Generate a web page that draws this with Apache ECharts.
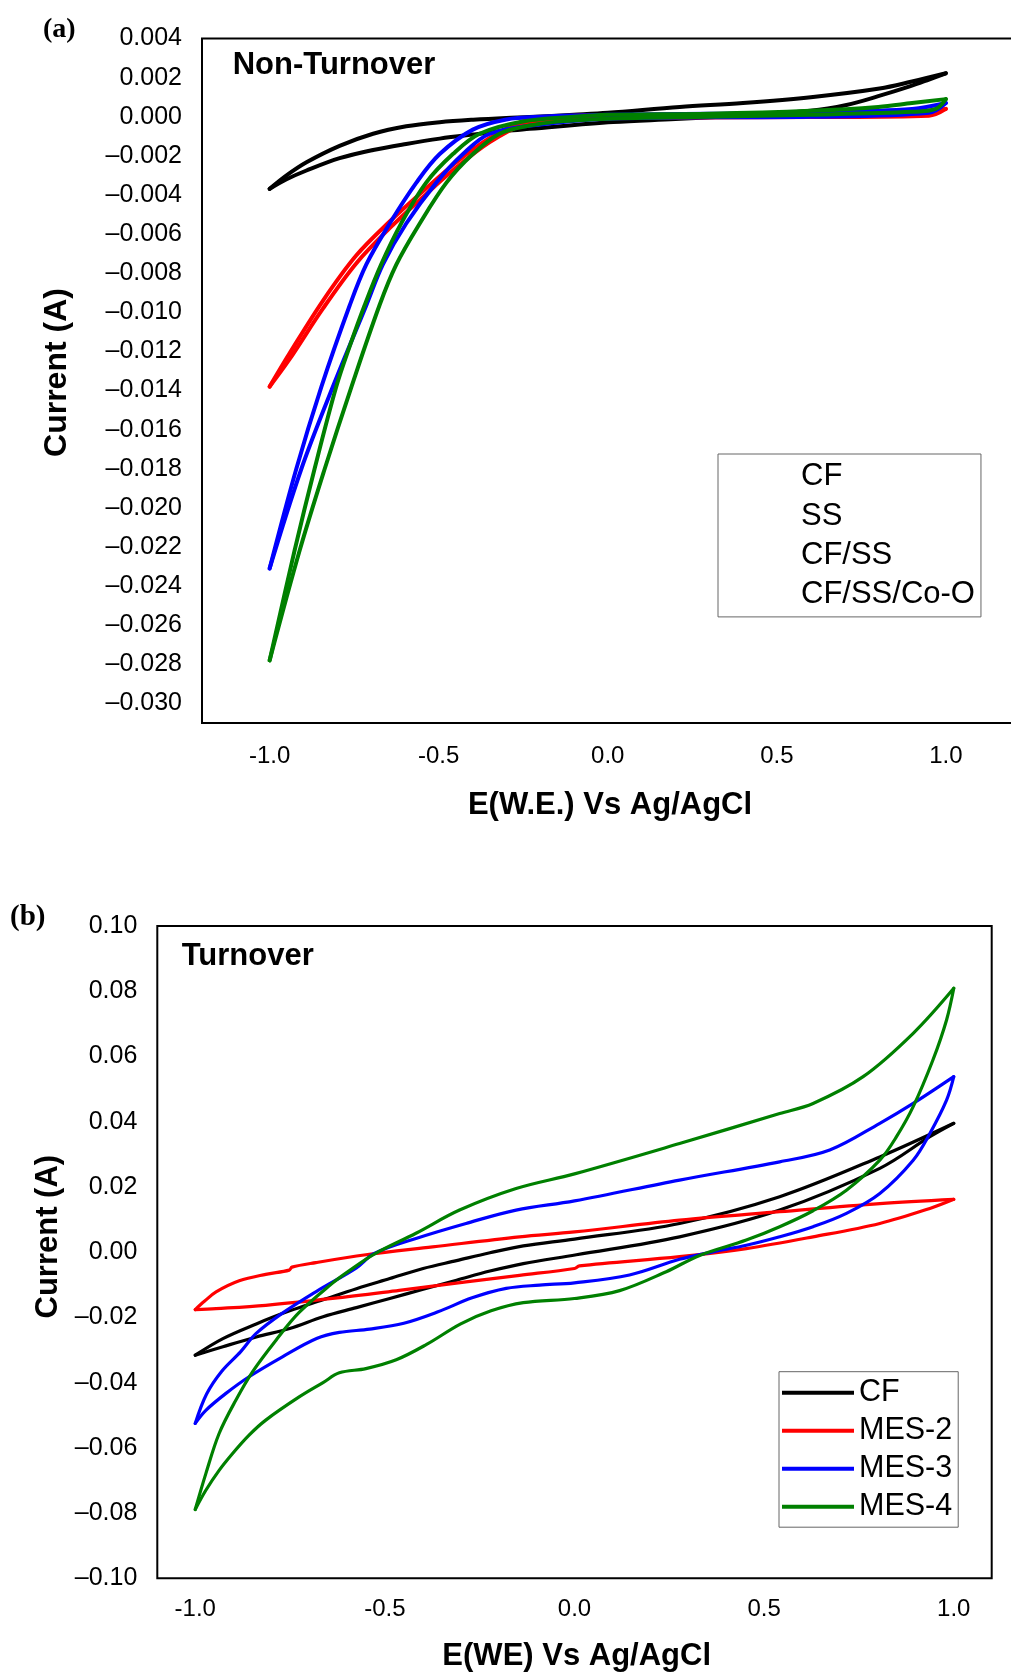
<!DOCTYPE html>
<html><head><meta charset="utf-8">
<script src="https://cdn.jsdelivr.net/npm/echarts@6/dist/echarts.min.js"></script>
<style>html,body{margin:0;padding:0;background:#fff}#c{width:1011px;height:1672px}</style>
</head><body><div id="c"></div>
<script>
// ---------- Panel (a): Non-Turnover (scan order: -1 -> 1 -> -1) ----------
const aCF_E = [-1, -0.95, -0.891, -0.793, -0.694, -0.596, -0.497, -0.398, -0.3, -0.231, -0.1, 0, 0.213, 0.4, 0.607, 0.804, 0.9, 1.0,
  0.95, 0.893, 0.8, 0.706, 0.6, 0.41, 0.2, 0.016, -0.231, -0.3, -0.398, -0.497, -0.596, -0.694, -0.793, -0.891, -0.95, -1];
const aCF_I = [-0.00369, -0.003, -0.00233, -0.00149, -0.00087, -0.00049, -0.00028, -0.00015, -0.00006, -0.00002, 0.0001, 0.0002, 0.0005, 0.0007, 0.00101, 0.00144, 0.0018, 0.00222,
  0.0019, 0.00155, 0.00105, 0.0006, 0.0003, 0.00008, -0.00012, -0.00027, -0.00062, -0.00072, -0.00091, -0.00112, -0.00139, -0.0017, -0.00212, -0.00275, -0.0032, -0.00369];
const aSS_E = [-1, -0.941, -0.842, -0.744, -0.645, -0.546, -0.448, -0.349, -0.25, -0.15, 0, 0.3, 0.6, 0.9, 1.0,
  0.95, 0.6, 0.3, 0, -0.15, -0.25, -0.349, -0.448, -0.546, -0.645, -0.744, -0.842, -0.941, -1];
const aSS_I = [-0.0138, -0.0121, -0.0094, -0.0071, -0.00536, -0.0038, -0.00233, -0.00108, -0.00024, 0.00002, 0.00008, 0.00012, 0.00018, 0.00028, 0.0004,
  0.00005, -0.00002, -0.00004, -0.00008, -0.00015, -0.0004, -0.0013, -0.0026, -0.0041, -0.0057, -0.0075, -0.0098, -0.0124, -0.0138];
const aCFSS_E = [-1, -0.921, -0.847, -0.763, -0.714, -0.645, -0.566, -0.497, -0.399, -0.3, -0.2, 0, 0.3, 0.6, 0.9, 1.0,
  0.95, 0.6, 0.3, 0, -0.2, -0.349, -0.428, -0.507, -0.596, -0.665, -0.714, -0.813, -0.906, -1];
const aCFSS_I = [-0.0231, -0.018, -0.01381, -0.00964, -0.00755, -0.00546, -0.00337, -0.00191, -0.00066, -0.00014, 0, 0.0001, 0.00015, 0.00022, 0.0004, 0.0007,
  0.0002, 0, -0.00003, -0.0001, -0.0004, -0.00087, -0.00191, -0.00337, -0.00546, -0.00755, -0.00964, -0.01381, -0.018, -0.0231];
const aCo_E = [-1, -0.926, -0.867, -0.803, -0.763, -0.719, -0.67, -0.611, -0.537, -0.458, -0.379, -0.251, -0.1, 0, 0.3, 0.6, 0.8, 0.9, 1.0,
  0.97, 0.9, 0.6, 0.3, 0, -0.15, -0.231, -0.32, -0.399, -0.477, -0.556, -0.625, -0.675, -0.758, -0.837, -0.911, -1];
const aCo_I = [-0.0278, -0.02217, -0.018, -0.01381, -0.01173, -0.00964, -0.00755, -0.00546, -0.00337, -0.00191, -0.00087, -0.00024, 0, 0.0001, 0.00015, 0.0003, 0.0005, 0.0007, 0.0009,
  0.0004, 0.00025, 0.0001, 0, -0.0001, -0.00025, -0.00045, -0.00087, -0.00191, -0.00337, -0.00546, -0.00755, -0.00964, -0.01381, -0.018, -0.02217, -0.0278];

// ---------- Panel (b): Turnover ----------
const bCF_E = [-1, -0.927, -0.839, -0.751, -0.663, -0.575, -0.487, -0.399, -0.311, -0.223, -0.135, 0, 0.277, 0.541, 0.805, 1.0,
  0.937, 0.805, 0.541, 0.277, 0.005, -0.135, -0.223, -0.311, -0.399, -0.487, -0.575, -0.663, -0.751, -0.839, -0.927, -1];
const bCF_I = [-0.0316, -0.0265, -0.022, -0.018, -0.0146, -0.0112, -0.0081, -0.005, -0.0026, -0.0002, 0.0019, 0.004, 0.0088, 0.017, 0.0292, 0.0395,
  0.0354, 0.0257, 0.0129, 0.0047, -0.0008, -0.0035, -0.0058, -0.0086, -0.0114, -0.0142, -0.017, -0.0198, -0.0234, -0.026, -0.029, -0.0316];
const bM2_E = [-1, -0.975, -0.945, -0.884, -0.814, -0.752, -0.745, -0.682, -0.55, -0.374, -0.145, 0, 0.277, 0.541, 0.805, 1.0,
  0.937, 0.805, 0.629, 0.453, 0.277, 0.013, 0, -0.145, -0.286, -0.462, -0.638, -0.814, -0.945, -1];
const bM2_I = [-0.0176, -0.015, -0.0122, -0.0088, -0.0068, -0.0055, -0.0046, -0.0032, -0.0008, 0.0016, 0.0047, 0.0062, 0.0098, 0.0124, 0.0149, 0.0162,
  0.0134, 0.0088, 0.0047, 0.0011, -0.0014, -0.0042, -0.005, -0.0071, -0.0091, -0.0117, -0.0142, -0.0163, -0.0173, -0.0176];
const bM3_E = [-1, -0.97, -0.93, -0.88, -0.84, -0.77, -0.68, -0.575, -0.528, -0.418, -0.286, -0.154, 0, 0.277, 0.541, 0.673, 0.805, 0.893, 1.0,
  0.981, 0.937, 0.893, 0.805, 0.717, 0.629, 0.541, 0.453, 0.365, 0.277, 0.145, 0, -0.092, -0.18, -0.27, -0.36, -0.45, -0.54, -0.62, -0.68, -0.77, -0.858, -0.919, -0.972, -1];
const bM3_I = [-0.0525, -0.0435, -0.0365, -0.0305, -0.025, -0.0187, -0.012, -0.0048, -0.0004, 0.0042, 0.0088, 0.0129, 0.0157, 0.0221, 0.0277, 0.0313, 0.0395, 0.0456, 0.0538,
  0.0466, 0.0364, 0.0282, 0.018, 0.0119, 0.0078, 0.0047, 0.0021, 0.0001, -0.0022, -0.007, -0.0094, -0.0101, -0.0111, -0.014, -0.0183, -0.0218, -0.0236, -0.0246, -0.0265, -0.0321, -0.0382, -0.0433, -0.0485, -0.0525];
const bM4_E = [-1, -0.972, -0.937, -0.893, -0.849, -0.787, -0.726, -0.638, -0.6, -0.528, -0.418, -0.303, -0.154, 0, 0.277, 0.541, 0.629, 0.761, 0.893, 1.0,
  0.981, 0.945, 0.893, 0.849, 0.805, 0.717, 0.629, 0.541, 0.453, 0.33, 0.242, 0.119, 0, -0.135, -0.22, -0.3, -0.39, -0.47, -0.55, -0.62, -0.663, -0.726, -0.814, -0.858, -0.902, -0.937, -0.972, -1];
const bM4_I = [-0.0789, -0.0679, -0.0556, -0.0454, -0.0367, -0.027, -0.0185, -0.0095, -0.0062, -0.0006, 0.0058, 0.0129, 0.0195, 0.024, 0.0333, 0.0425, 0.0456, 0.0538, 0.0671, 0.0809,
  0.0712, 0.0589, 0.0446, 0.0354, 0.0282, 0.019, 0.0127, 0.0078, 0.0037, -0.001, -0.006, -0.0118, -0.0142, -0.0155, -0.018, -0.022, -0.0283, -0.033, -0.0357, -0.037, -0.04, -0.0444, -0.0515, -0.0561, -0.0618, -0.0669, -0.073, -0.0789];

const legendA = ['CF', 'SS', 'CF/SS', 'CF/SS/Co-O'];
const legendB = ['CF', 'MES-2', 'MES-3', 'MES-4'];

const SANS = '"Liberation Sans", Arial, Helvetica, sans-serif';
const SERIF = '"Liberation Serif", "Times New Roman", serif';

function loopSeries(name, E, I, color, width, gi) {
  const k = E.indexOf(Math.max.apply(null, E));
  const pts = E.map((e, i) => [e, I[i]]);
  return [pts.slice(0, k + 1), pts.slice(k)].map(d => ({
    type: 'line', name: name, xAxisIndex: gi, yAxisIndex: gi, data: d,
    symbol: 'none', showSymbol: false, smooth: 0.35,
    lineStyle: { color: color, width: width, cap: 'round', join: 'round' },
    itemStyle: { color: color }, emphasis: { disabled: true }, silent: true, animation: false
  }));
}

const xFmt = v => { const k = Math.round(v * 10); if (k % 5) return ''; return (k / 10).toFixed(1); };
const yFmtA = v => { const k = Math.round(v * 1000); if (k % 2) return ''; return (k < 0 ? '\u2013' : '') + (Math.abs(k) / 1000).toFixed(3); };
const yFmtB = v => { const k = Math.round(v * 100); return (k < 0 ? '\u2013' : '') + (Math.abs(k) / 100).toFixed(2); };

function xAxis(gi, min, max, margin) {
  return { type: 'value', gridIndex: gi, min: min, max: max, interval: 0.1,
    axisLine: { show: false }, axisTick: { show: false }, splitLine: { show: false },
    axisLabel: { formatter: xFmt, margin: margin, color: '#000', fontSize: 24, fontFamily: SANS } };
}
function yAxis(gi, min, max, interval, fmt) {
  return { type: 'value', gridIndex: gi, min: min, max: max, interval: interval,
    axisLine: { show: false }, axisTick: { show: false }, splitLine: { show: false },
    axisLabel: { formatter: fmt, margin: 20, color: '#000', fontSize: 25, fontFamily: SANS } };
}

const chart = echarts.init(document.getElementById('c'), null, { renderer: 'canvas' });
const series = [].concat(
  loopSeries('CF', aCF_E, aCF_I, '#000000', 4, 0),
  loopSeries('SS', aSS_E, aSS_I, '#ff0000', 4, 0),
  loopSeries('CF/SS', aCFSS_E, aCFSS_I, '#0000ff', 4, 0),
  loopSeries('CF/SS/Co-O', aCo_E, aCo_I, '#008000', 4, 0),
  loopSeries('CF', bCF_E, bCF_I, '#000000', 3.2, 1),
  loopSeries('MES-2', bM2_E, bM2_I, '#ff0000', 3.2, 1),
  loopSeries('MES-3', bM3_E, bM3_I, '#0000ff', 3.2, 1),
  loopSeries('MES-4', bM4_E, bM4_I, '#008000', 3.2, 1)
);

chart.setOption({
  animation: false,
  backgroundColor: '#ffffff',
  grid: [
    { left: 202, top: 38.5, width: 811.5, height: 684.5, show: true, borderColor: '#000', borderWidth: 2, backgroundColor: 'transparent', containLabel: false, outerBoundsMode: 'none' },
    { left: 157.3, top: 926, width: 834.4, height: 652.3, show: true, borderColor: '#000', borderWidth: 2, backgroundColor: 'transparent', containLabel: false, outerBoundsMode: 'none' }
  ],
  xAxis: [xAxis(0, -1.2, 1.2, 21), xAxis(1, -1.1, 1.1, 19)],
  yAxis: [yAxis(0, -0.031, 0.004, 0.001, yFmtA), yAxis(1, -0.1, 0.1, 0.02, yFmtB)],
  legend: [
    { data: legendA, orient: 'vertical', left: 718, top: 454, icon: 'none', selectedMode: false,
      itemWidth: 69, itemHeight: 14, itemGap: 5.4, padding: [5.7, 6, 5, 9],
      borderColor: '#666', borderWidth: 1, backgroundColor: '#fff',
      textStyle: { color: '#000', fontSize: 31, lineHeight: 34, fontFamily: SANS } },
    { data: legendB, orient: 'vertical', left: 779, top: 1371.7, icon: 'rect', selectedMode: false,
      itemWidth: 72, itemHeight: 4, itemGap: 5, padding: [4.5, 6, 4, 3],
      borderColor: '#666', borderWidth: 1, backgroundColor: '#fff',
      textStyle: { color: '#000', fontSize: 30.5, lineHeight: 33, fontFamily: SANS } }
  ],
  graphic: [
    { type: 'text', x: 43, y: 30, style: { text: '(a)', font: 'bold 28px ' + SERIF, fill: '#000', align: 'left', verticalAlign: 'middle' } },
    { type: 'text', x: 232.7, y: 65, style: { text: 'Non-Turnover', font: 'bold 31px ' + SANS, fill: '#000', align: 'left', verticalAlign: 'middle' } },
    { type: 'text', x: 57.5, y: 372.5, rotation: Math.PI / 2, style: { text: 'Current (A)', font: 'bold 32px ' + SANS, fill: '#000', align: 'center', verticalAlign: 'middle' } },
    { type: 'text', x: 610, y: 805, style: { text: 'E(W.E.) Vs Ag/AgCl', font: 'bold 31px ' + SANS, fill: '#000', align: 'center', verticalAlign: 'middle' } },
    { type: 'text', x: 10, y: 918, style: { text: '(b)', font: 'bold 29px ' + SERIF, fill: '#000', align: 'left', verticalAlign: 'middle' } },
    { type: 'text', x: 181.7, y: 956.7, style: { text: 'Turnover', font: 'bold 31px ' + SANS, fill: '#000', align: 'left', verticalAlign: 'middle' } },
    { type: 'text', x: 48, y: 1236.7, rotation: Math.PI / 2, style: { text: 'Current (A)', font: 'bold 31px ' + SANS, fill: '#000', align: 'center', verticalAlign: 'middle' } },
    { type: 'text', x: 576.7, y: 1656.7, style: { text: 'E(WE) Vs Ag/AgCl', font: 'bold 31px ' + SANS, fill: '#000', align: 'center', verticalAlign: 'middle' } }
  ],
  series: series
});
</script>
</body></html>
